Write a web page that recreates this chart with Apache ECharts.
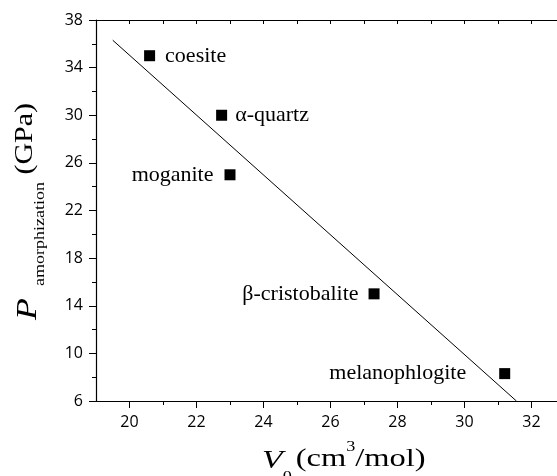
<!DOCTYPE html>
<html>
<head>
<meta charset="utf-8">
<script src="https://cdn.jsdelivr.net/npm/echarts@6/dist/echarts.min.js"></script>
<style>
html,body{margin:0;padding:0;background:#fff;}
#main{width:557px;height:476px;}
</style>
</head>
<body>
<div id="main"></div>
<script>
// amorphization pressure vs molar volume of SiO2 polymorphs
var names = ['coesite', 'α-quartz', 'moganite', 'β-cristobalite', 'melanophlogite'];
var volumes = [20.6, 22.75, 23.0, 27.3, 31.2];
var pressures = [35, 30, 25, 15, 8.3];
// end points of the straight fit line
var fitX = [19.5, 31.55];
var fitY = [36.3, 6];
// tick values
var xMajor = [20, 22, 24, 26, 28, 30, 32];
var xMinor = [21, 23, 25, 27, 29, 31, 33];

var serif = '"Liberation Serif", "Times New Roman", serif';
var sans = '"Open Sans", sans-serif';

// where each label sits next to its square
var labelSide = ['right', 'right', 'left', 'left', 'left'];
var labelGap = [10, 8, 11, 10, 33];

function $each(arr, fn) {
    for (var i = 0; i < arr.length; i++) fn(i, arr[i]);
}

var pts = [];
$each(names, function (i, n) {
    pts.push({
        name: n,
        value: [volumes[i], pressures[i]],
        label: {position: labelSide[i], distance: labelGap[i]}
    });
});
var fit = [];
$each(fitX, function (i, x) {
    fit.push([x, fitY[i]]);
});

var lineCol = '#000';
var myChart = echarts.init(document.getElementById('main'));
var option = {
    animation: false,
    backgroundColor: '#fff',
    grid: {left: 96, top: 20, width: 469, height: 381, containLabel: false, outerBoundsMode: 'none'},
    xAxis: [{
        type: 'value', position: 'bottom', min: 19, max: 33,
        axisLine: {show: true, lineStyle: {color: lineCol, width: 1.2}},
        axisTick: {show: true, inside: false, length: 7, lineStyle: {color: lineCol}, customValues: xMajor},
        axisLabel: {color: '#000', fontFamily: sans, fontSize: 16, margin: 13, customValues: xMajor},
        splitLine: {show: false}
    }, {
        type: 'value', position: 'bottom', min: 19, max: 33,
        axisLine: {show: false},
        axisTick: {show: true, inside: false, length: 4, lineStyle: {color: lineCol}, customValues: xMinor},
        axisLabel: {show: false},
        splitLine: {show: false}
    }, {
        type: 'value', position: 'top', min: 19, max: 33, interval: 1,
        axisLine: {show: true, lineStyle: {color: lineCol, width: 1.2}},
        axisTick: {show: true, inside: true, length: 4, lineStyle: {color: lineCol}},
        axisLabel: {show: false},
        splitLine: {show: false}
    }],
    yAxis: [{
        type: 'value', position: 'left', min: 6, max: 38, interval: 4,
        axisLine: {show: true, lineStyle: {color: lineCol, width: 1.2}},
        axisTick: {show: true, inside: false, length: 7, lineStyle: {color: lineCol}},
        minorTick: {show: true, splitNumber: 2, length: 4, lineStyle: {color: lineCol}},
        axisLabel: {color: '#000', fontFamily: sans, fontSize: 16, margin: 13},
        splitLine: {show: false}
    }, {
        type: 'value', position: 'right', min: 6, max: 38, interval: 4,
        axisLine: {show: true, lineStyle: {color: lineCol, width: 1.2}},
        axisTick: {show: true, inside: true, length: 7, lineStyle: {color: lineCol}},
        axisLabel: {show: false},
        splitLine: {show: false}
    }],
    graphic: [{
        // x axis title, stretched a little like the original export
        type: 'text', x: 262, y: 440, scaleX: 1.3, silent: true,
        style: {
            text: '{v|V}{sub|0}{u|(cm}{sup|3}{u|/mol)}',
            fill: '#000',
            align: 'left',
            verticalAlign: 'top',
            rich: {
                v: {fontFamily: serif, fontStyle: 'italic', fontSize: 26, lineHeight: 30, padding: [8, 0, 0, 0], verticalAlign: 'top'},
                sub: {fontFamily: serif, fontSize: 14, lineHeight: 14, padding: [30, 3, 0, 0], verticalAlign: 'top'},
                u: {fontFamily: serif, fontSize: 25, lineHeight: 30, padding: [7, 0, 0, 0], verticalAlign: 'top'},
                sup: {fontFamily: serif, fontSize: 14, lineHeight: 3, verticalAlign: 'top'}
            }
        }
    }, {
        // y axis title, rotated
        type: 'text', x: 13, y: 320, rotation: Math.PI / 2, scaleX: 1.2, silent: true,
        style: {
            text: '{p|P}{sub|amorphization}{u| (GPa)}',
            fill: '#000',
            align: 'left',
            verticalAlign: 'top',
            rich: {
                p: {fontFamily: serif, fontStyle: 'italic', fontSize: 30, lineHeight: 30, padding: [0, 10, 0, 0], verticalAlign: 'top'},
                sub: {fontFamily: serif, fontSize: 15, lineHeight: 15, padding: [20, 0, 0, 0], verticalAlign: 'top'},
                u: {fontFamily: serif, fontSize: 25, lineHeight: 30, verticalAlign: 'top'}
            }
        }
    }],
    series: [{
        type: 'line',
        data: fit,
        symbol: 'none',
        lineStyle: {color: '#000', width: 1},
        z: 2
    }, {
        type: 'scatter',
        data: pts,
        symbol: 'rect',
        symbolSize: 11,
        itemStyle: {color: '#000', opacity: 1},
        label: {
            show: true,
            formatter: '{b}',
            color: '#000',
            fontFamily: serif,
            fontSize: 22
        },
        z: 3
    }]
};
myChart.setOption(option);
</script>
</body>
</html>
